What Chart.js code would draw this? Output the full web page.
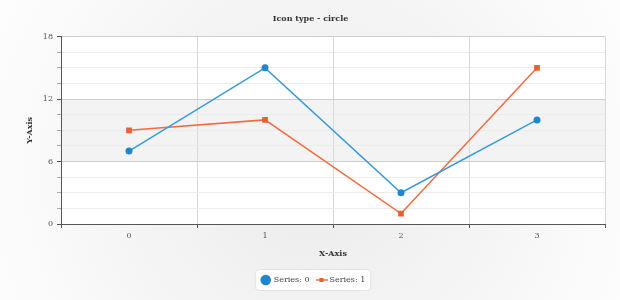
<!DOCTYPE html>
<html>
<head>
<meta charset="utf-8">
<script src="https://cdn.jsdelivr.net/npm/chart.js@4.4.0/dist/chart.umd.min.js"></script>
<style>
  html, body { margin: 0; padding: 0; background: #fff; }
  #wrap { width: 620px; height: 300px; }
</style>
</head>
<body>
<div id="wrap"><canvas id="myChart" width="620" height="300"></canvas></div>
<script>
"use strict";

const categories = ["0", "1", "2", "3"];
const seriesNames = ["Series: 0", "Series: 1"];
const series0 = [7, 15, 3, 10];
const series1 = [9, 10, 1, 15];
const yMajorTicks = [0, 6, 12, 18];
const bandRange = [6, 12];

const serif = "'DejaVu Serif', serif";
const blue = "#3a9ad9";
const orange = "#f06d42";

// little line + square icon for the second legend entry
const makeLineIcon = (color) => {
  const c = document.createElement("canvas");
  c.width = 12;
  c.height = 6;
  const g = c.getContext("2d");
  g.strokeStyle = color;
  g.lineWidth = 1.5;
  g.beginPath();
  g.moveTo(0, 3);
  g.lineTo(12, 3);
  g.stroke();
  g.fillStyle = "#e8602f";
  g.fillRect(4, 1, 4, 4);
  return c;
};

const backdrop = {
  id: "backdrop",
  afterLayout(chart) {
    // legend and title sit a bit right of where chart.js centres them
    chart.legend.left += 11;
    chart.legend.right += 11;
    chart.titleBlock.left += 8;
    chart.titleBlock.right += 8;
  },
  beforeDraw(chart) {
    const { ctx, chartArea: a, scales } = chart;
    ctx.save();
    const grad = ctx.createRadialGradient(310, 170, 20, 310, 170, 360);
    grad.addColorStop(0, "#ececec");
    grad.addColorStop(1, "#fefefe");
    ctx.fillStyle = grad;
    ctx.fillRect(0, 0, chart.width, chart.height);

    ctx.fillStyle = "#ffffff";
    ctx.fillRect(a.left, a.top, a.right - a.left, a.bottom - a.top);

    // grey band between 6 and 12
    const y1 = scales.y.getPixelForValue(bandRange[1]);
    const y0 = scales.y.getPixelForValue(bandRange[0]);
    ctx.fillStyle = "#f3f3f3";
    ctx.fillRect(a.left, y1, a.right - a.left, y0 - y1);

    // legend frame
    const boxes = chart.legend.legendHitBoxes;
    if (boxes && boxes.length) {
      const l = Math.min(...boxes.map((b) => b.left)) - 7;
      const r = Math.max(...boxes.map((b) => b.left + b.width)) + 5;
      const t = Math.min(...boxes.map((b) => b.top)) - 7;
      const bt = Math.max(...boxes.map((b) => b.top + b.height)) + 6;
      ctx.beginPath();
      ctx.roundRect(l + 0.5, t + 0.5, r - l, bt - t, 4);
      ctx.fillStyle = "#ffffff";
      ctx.fill();
      ctx.strokeStyle = "#e2e2e2";
      ctx.lineWidth = 1;
      ctx.stroke();
    }
    ctx.restore();
  },
};

const ctx = document.getElementById("myChart").getContext("2d");
const lineIcon = makeLineIcon(orange);

new Chart(ctx, {
  type: "line",
  data: {
    labels: categories,
    datasets: [
      {
        label: seriesNames[0],
        data: series0,
        borderColor: blue,
        backgroundColor: "#1f86cf",
        borderWidth: 1.5,
        pointStyle: "circle",
        pointRadius: 3.5,
        pointBorderWidth: 0,
      },
      {
        label: seriesNames[1],
        data: series1,
        borderColor: orange,
        backgroundColor: "#e8602f",
        borderWidth: 1.5,
        pointStyle: "rect",
        pointRadius: 4,
        pointBorderWidth: 0,
      },
    ],
  },
  options: {
    responsive: false,
    animation: false,
    events: [],
    layout: { padding: { left: 0, right: 15, top: 0, bottom: 6 } },
    plugins: {
      title: {
        display: true,
        text: "Icon type - circle",
        color: "#333",
        font: { family: serif, size: 8, weight: "bold" },
        padding: { top: 14, bottom: 13 },
      },
      legend: {
        position: "bottom",
        labels: {
          usePointStyle: true,
          boxWidth: 8,
          boxHeight: 7.5,
          padding: 8,
          color: "#444",
          font: { family: serif, size: 8 },
          generateLabels(chart) {
            return chart.data.datasets.map((ds, i) => ({
              text: ds.label,
              fillStyle: ds.backgroundColor,
              strokeStyle: ds.backgroundColor,
              lineWidth: 0,
              pointStyle: i === 0 ? "circle" : lineIcon,
              hidden: false,
              datasetIndex: i,
              fontColor: "#444",
            }));
          },
        },
      },
      tooltip: { enabled: false },
    },
    scales: {
      x: {
        offset: true,
        grid: {
          offset: true,
          color: "#d8d8d8",
          tickColor: "#555",
          tickLength: 4,
        },
        border: { color: "#555", width: 1 },
        ticks: { color: "#555", padding: 3, font: { family: serif, size: 8 } },
        title: {
          display: true,
          text: "X-Axis",
          color: "#333",
          font: { family: serif, size: 8, weight: "bold" },
          padding: { top: 0, bottom: 9 },
        },
        afterFit(scale) {
          scale.height = 44;
        },
      },
      y: {
        min: 0,
        max: 18,
        grid: {
          color: (c) => (yMajorTicks.includes(c.tick.value) ? "#cccccc" : "#ececec"),
          tickColor: (c) => (yMajorTicks.includes(c.tick.value) ? "#555" : "#aaa"),
          tickLength: 4,
        },
        border: { color: "#555", width: 1 },
        ticks: {
          stepSize: 1.5,
          autoSkip: false,
          color: "#555",
          padding: 4,
          font: { family: serif, size: 8 },
          callback: (v) => (yMajorTicks.includes(v) ? String(v) : ""),
        },
        title: {
          display: true,
          text: "Y-Axis",
          color: "#333",
          font: { family: serif, size: 8, weight: "bold" },
          padding: { top: 25, bottom: 0 },
        },
        afterFit(scale) {
          scale.width = 61;
        },
      },
    },
  },
  plugins: [backdrop],
});
</script>
</body>
</html>
